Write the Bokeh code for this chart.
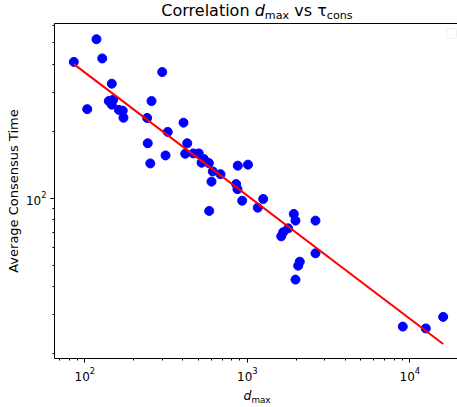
import numpy as np
from bokeh.plotting import figure
from bokeh.layouts import column
from bokeh.models import (BoxAnnotation, FixedTicker, LogTickFormatter, LogAxis,
                          Range1d, ColumnDataSource, Div)
from bokeh.embed import file_html
from bokeh.resources import INLINE

# ---- data ----
d_max = [118, 85.6, 128, 299.5, 146.6, 103.5, 140.5, 149.6, 146.6, 162, 171.3, 173,
         257.4, 242, 324, 405, 244, 427, 314, 253, 415, 465, 503, 523, 540, 580,
         613, 684, 602, 874, 1010, 854, 870, 930, 583, 1253, 1160, 1933, 1980,
         2628, 1785, 1663, 1617, 2628, 2104, 2057, 1980, 9056, 12545, 16050]
tau_cons = [520, 411, 426, 370, 328, 252, 274, 278, 264, 250, 248, 230.5,
            274, 230, 199, 219, 177, 177, 156, 143.6, 158.8, 159.3, 159.3, 144.7, 150.4, 144.2,
            132.2, 128.5, 118.9, 140.3, 141.8, 116, 110, 97.6, 87.8, 99.4, 90.8, 85.1, 79.4,
            79.4, 73.3, 70.4, 67.5, 56.6, 51.9, 49.8, 43.1, 26.5, 26.0, 29.3]

# log-log fit: log10(tau) = fit_intercept + fit_slope * log10(d)
fit_slope = -0.554
fit_intercept = 3.6745

x_major_ticks = [100, 1000, 10000]
x_minor_ticks = [70, 80, 90, 200, 300, 400, 500, 600, 700, 800, 900,
                 2000, 3000, 4000, 5000, 6000, 7000, 8000, 9000]
y_major_ticks = [100]
y_minor_ticks = [20, 30, 40, 50, 60, 70, 80, 90, 200, 300, 400, 500, 600]

title_html = ('Correlation <i>d</i><sub style="font-size:11.2px;vertical-align:-3px">max</sub>'
              ' vs τ<sub style="font-size:11.2px;vertical-align:-3px">cons</sub>')
xlabel_html = '<i>d</i><sub style="font-size:8.8px;vertical-align:-3px">max</sub>'
ylabel_text = "Average Consensus Time"

# ---- layout ----
W = 457
TITLE_H, XLAB_H = 20, 19
BL, BR, BT, BB = 54, 0, 3, 30
FH = 335
FIG_H = BT + FH + BB
FONT = "DejaVu Sans"

p = figure(width=W, height=FIG_H, x_axis_type="log", y_axis_type="log",
           x_range=Range1d(65.1, 19660), y_range=Range1d(19.04, 611.8),
           output_backend="svg", toolbar_location=None, title=None,
           min_border_left=BL, min_border_right=BR, min_border_top=BT,
           min_border_bottom=BB)
p.outline_line_color = None
p.background_fill_color = "white"
p.border_fill_color = "white"
p.xgrid.visible = False
p.ygrid.visible = False

def style_axis(ax, major, minor):
    ax.ticker = FixedTicker(ticks=major, minor_ticks=minor)
    ax.formatter = LogTickFormatter()
    ax.axis_line_color = "black"
    ax.axis_line_width = 1
    ax.major_tick_line_color = "black"
    ax.minor_tick_line_color = "black"
    ax.major_tick_out = 4
    ax.major_tick_in = 0
    ax.minor_tick_out = 2
    ax.minor_tick_in = 0
    ax.major_label_text_font = FONT
    ax.major_label_text_font_size = "12px"
    ax.major_label_text_color = "black"
    ax.major_label_standoff = 4

style_axis(p.xaxis[0], x_major_ticks, x_minor_ticks)
style_axis(p.yaxis[0], y_major_ticks, y_minor_ticks)
p.yaxis[0].axis_label = ylabel_text
p.yaxis[0].axis_label_text_font = FONT
p.yaxis[0].axis_label_text_font_size = "13px"
p.yaxis[0].axis_label_text_font_style = "normal"
p.yaxis[0].axis_label_text_color = "black"
p.yaxis[0].axis_label_standoff = 2

top = LogAxis(ticker=FixedTicker(ticks=[]), major_label_text_font_size="0px",
              major_tick_out=0, minor_tick_out=0, major_tick_in=0, minor_tick_in=0,
              major_label_standoff=0, axis_line_color="black", axis_line_width=1)
p.add_layout(top, "above")

src = ColumnDataSource(dict(x=d_max, y=tau_cons))
p.scatter("x", "y", source=src, marker="circle", size=9, fill_color="#0000ff",
          line_color="#0000ff")

lx = np.log10(np.array([min(d_max), max(d_max)]))
fit_src = ColumnDataSource(dict(x=10 ** lx, y=10 ** (fit_intercept + fit_slope * lx)))
p.line("x", "y", source=fit_src, line_color="#ff0000", line_width=2)

# empty legend frame (matplotlib legend with no entries)
p.add_layout(BoxAnnotation(left=392, right=402, bottom=320, top=330,
                           left_units="screen", right_units="screen",
                           bottom_units="screen", top_units="screen",
                           fill_color="white", fill_alpha=1, line_color="#cccccc",
                           line_width=1, border_radius=2))

title_div = Div(text=('<div style="width:400px;font-family:\'DejaVu Sans\';font-size:16px;'
                      'line-height:17px;padding-top:2px;text-align:center;'
                      'white-space:nowrap;color:black">' + title_html + '</div>'),
                width=400, height=TITLE_H, margin=(0, 0, 0, 57))
xlabel_div = Div(text=('<div style="width:400px;font-family:\'DejaVu Sans\';font-size:12.5px;'
                       'line-height:14px;padding-top:0px;text-align:center;'
                       'white-space:nowrap;color:black">' + xlabel_html + '</div>'),
                 width=400, height=XLAB_H, margin=(0, 0, 0, 57))

layout = column(title_div, p, xlabel_div, spacing=0)

open("out.html", "w").write(file_html(layout, INLINE))
